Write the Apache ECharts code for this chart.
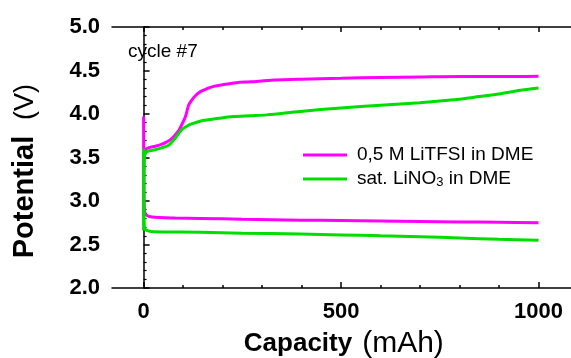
<!DOCTYPE html>
<html>
<head>
<meta charset="utf-8">
<script src="https://cdn.jsdelivr.net/npm/echarts@6/dist/echarts.min.js"></script>
<style>html,body{margin:0;padding:0;background:#fff}#c{width:571px;height:358px}</style>
</head>
<body>
<div id="c"></div>
<script>
// ---- data ----
const seriesNames = ['0,5 M LiTFSI in DME', 'sat. LiNO{sub|3} in DME'];
const xTickLabels = [0, 500, 1000];

const magChargeCap = [0, 0.5, 2, 5, 12, 30, 45, 59, 72, 80, 89, 97, 106, 114, 122, 131, 145, 160, 180, 203, 235, 270, 330, 397, 500, 600, 700, 800, 900, 1000];
const magChargeV   = [2.82, 3.3, 3.55, 3.59, 3.61, 3.63, 3.65, 3.68, 3.72, 3.76, 3.81, 3.88, 3.97, 4.10, 4.16, 4.21, 4.26, 4.29, 4.32, 4.34, 4.36, 4.37, 4.39, 4.40, 4.41, 4.42, 4.425, 4.43, 4.43, 4.435];

const grnChargeCap = [0, 0.5, 2, 5, 12, 30, 45, 59, 66, 72, 80, 88, 97, 106, 118, 131, 145, 160, 190, 227, 270, 312, 397, 500, 600, 700, 750, 800, 850, 900, 950, 1000];
const grnChargeV   = [2.66, 3.2, 3.5, 3.55, 3.575, 3.59, 3.61, 3.63, 3.65, 3.68, 3.72, 3.77, 3.82, 3.85, 3.88, 3.90, 3.92, 3.93, 3.95, 3.97, 3.98, 3.99, 4.03, 4.07, 4.10, 4.13, 4.15, 4.17, 4.20, 4.23, 4.27, 4.30];

const magDischCap = [0, 0.5, 2, 5, 10, 17, 40, 80, 143, 250, 397, 500, 600, 700, 800, 900, 1000];
const magDischV   = [3.97, 3.2, 2.9, 2.85, 2.83, 2.82, 2.81, 2.805, 2.80, 2.79, 2.78, 2.775, 2.77, 2.765, 2.76, 2.755, 2.75];

const grnDischCap = [0, 0.5, 2, 5, 10, 20, 50, 143, 250, 397, 500, 600, 700, 800, 900, 1000];
const grnDischV   = [3.6, 3.0, 2.7, 2.67, 2.66, 2.65, 2.645, 2.64, 2.63, 2.62, 2.61, 2.60, 2.59, 2.575, 2.56, 2.55];

const MAG = '#ff00ff', GRN = '#00dd00';
const FF = '"Liberation Sans", Arial, sans-serif';

function pairs(xs, ys) { return xs.map((x, i) => [x, ys[i]]); }

const PL = 112, PT = 27, PW = 466, PH = 261, XMIN = -80, XMAX = 1100;
const K = PW / (XMAX - XMIN);
const TL = PL + (0 - XMIN) * K;
const TW = (XMAX - 0) * K;

const chart = echarts.init(document.getElementById('c'), null, {renderer: 'canvas'});

const blackLine = {color: '#000', width: 1.5};

function tickAxis(pos, interval, len) {
  return {
    type: 'value', gridIndex: 1, position: pos, min: 0, max: XMAX, interval: interval,
    splitLine: {show: false},
    axisLine: {show: false, onZero: false},
    axisTick: {show: true, inside: true, length: len, lineStyle: blackLine},
    axisLabel: {show: false}
  };
}

const lineSeries = (name, data, color) => ({
  name: name, type: 'line', data: data, xAxisIndex: 0, yAxisIndex: 0,
  showSymbol: false, symbol: 'none', smooth: 0.3, animation: false,
  lineStyle: {color: color, width: 3}, itemStyle: {color: color}
});

chart.setOption({
  animation: false,
  grid: [
    {left: PL, top: PT, width: PW, height: PH, containLabel: false, outerBoundsMode: 'none'},
    {left: TL, top: PT, width: TW, height: PH, containLabel: false, outerBoundsMode: 'none'}
  ],
  xAxis: [
    {type: 'value', gridIndex: 0, position: 'bottom', min: XMIN, max: XMAX,
      splitLine: {show: false},
      axisLine: {show: true, onZero: false, lineStyle: blackLine},
      axisTick: {show: false},
      axisLabel: {show: false}},
    {type: 'value', gridIndex: 0, position: 'top', min: XMIN, max: XMAX,
      splitLine: {show: false},
      axisLine: {show: true, onZero: false, lineStyle: blackLine},
      axisTick: {show: false},
      axisLabel: {show: false}},
    {type: 'value', gridIndex: 1, position: 'bottom', min: 0, max: XMAX, interval: 500,
      splitLine: {show: false},
      axisLine: {show: false, onZero: false},
      axisTick: {show: true, inside: true, length: 6, lineStyle: blackLine},
      axisLabel: {show: true, margin: 13, color: '#000', fontSize: 22, fontWeight: 'bold', fontFamily: FF,
        formatter: v => (xTickLabels.indexOf(v) >= 0 ? String(v) : ''), showMaxLabel: false}},
    tickAxis('bottom', 100, 3),
    tickAxis('top', 500, 5),
    tickAxis('top', 100, 3)
  ],
  yAxis: [
    {type: 'value', gridIndex: 0, min: 2, max: 5, interval: 0.5,
      splitLine: {show: false},
      axisLine: {show: true, lineStyle: blackLine},
      axisTick: {inside: true, length: 6, lineStyle: blackLine},
      minorTick: {show: true, splitNumber: 5, length: 3, lineStyle: {color: '#000', width: 1.2}},
      axisLabel: {margin: 12, color: '#000', fontSize: 22, fontWeight: 'bold', fontFamily: FF,
        formatter: v => v.toFixed(1)}},
    {type: 'value', gridIndex: 1, min: 2, max: 5, show: false, splitLine: {show: false}}
  ],
  legend: {
    orient: 'vertical', left: 303, top: 145, padding: 0,
    itemWidth: 44, itemHeight: 3, itemGap: 4, icon: 'rect',
    data: seriesNames,
    textStyle: {fontSize: 19, fontFamily: FF, color: '#000', lineHeight: 20, padding: [0, 0, 0, 5],
      rich: {sub: {fontSize: 13, fontFamily: FF, color: '#000', lineHeight: 10, verticalAlign: 'bottom'}}}
  },
  graphic: [
    {type: 'text', x: 128, y: 52, style: {text: 'cycle #7', fontSize: 19, fontFamily: FF, fill: '#000', verticalAlign: 'middle', align: 'left'}},
    {type: 'text', x: 298, y: 344, style: {text: 'Capacity', fontSize: 26, fontWeight: 'bold', fontFamily: FF, fill: '#000', verticalAlign: 'middle', align: 'center'}},
    {type: 'text', x: 403, y: 344, style: {text: '(mAh)', fontSize: 30, fontFamily: FF, fill: '#000', verticalAlign: 'middle', align: 'center'}},
    {type: 'text', x: 25, y: 197, rotation: Math.PI / 2, style: {text: 'Potential', fontSize: 29, fontWeight: 'bold', fontFamily: FF, fill: '#000', verticalAlign: 'middle', align: 'center'}},
    {type: 'text', x: 26, y: 102, rotation: Math.PI / 2, style: {text: '(V)', fontSize: 27, fontFamily: FF, fill: '#000', verticalAlign: 'middle', align: 'center'}}
  ],
  series: [
    lineSeries(seriesNames[0], pairs(magChargeCap, magChargeV), MAG),
    lineSeries(seriesNames[0], pairs(magDischCap, magDischV), MAG),
    lineSeries(seriesNames[1], pairs(grnChargeCap, grnChargeV), GRN),
    lineSeries(seriesNames[1], pairs(grnDischCap, grnDischV), GRN)
  ]
});
</script>
</body>
</html>
